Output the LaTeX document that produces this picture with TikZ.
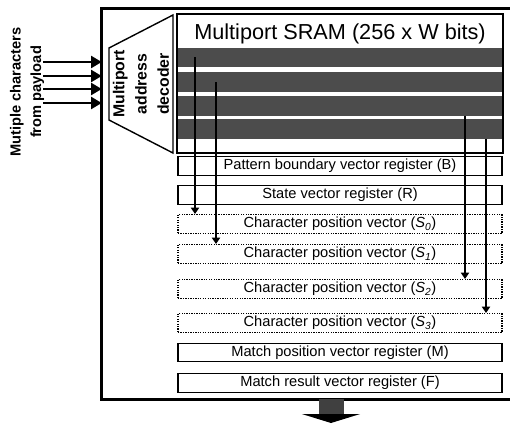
\documentclass[tikz,border=0pt]{standalone}
\usepackage{fontspec}
\setmainfont{Liberation Sans}
\usetikzlibrary{arrows.meta,positioning,calc}

\begin{document}
\begin{tikzpicture}[x=0.03cm,y=-0.03cm,>=Triangle]
\tikzset{reg/.style={draw,line width=1.1pt,minimum width=9.72cm,minimum height=0.56cm,inner sep=0pt,font=\fontsize{12.5}{14}\selectfont}, sreg/.style={reg,densely dotted}, cell/.style={fill=black!70,minimum width=9.74cm,minimum height=0.58cm,inner sep=0pt}, inarr/.style={line width=2.4pt,-{Triangle[width=10pt,length=9pt]}}, rd/.style={line width=1.8pt,-{Triangle[width=7pt,length=5.5pt]}}, outarr/.style={draw=black!75,line width=0.75cm,-{Triangle[width=1.74cm,length=0.27cm,color=black]}}, lbl/.style={rotate=90,align=center,font=\fontsize{12.5}{17.5}\selectfont\bfseries}}
\useasboundingbox (0,0) rectangle (510,424);
% chip outline (its right side lies past the picture)
\node[minimum width=12.54cm,minimum height=11.7cm] (chip) at (311,204) {};
\draw[line width=2.2pt] (chip.north east) -- (chip.north west) -- (chip.south west) -- (chip.south east);
\node[draw,line width=1.2pt,minimum width=9.78cm,minimum height=4.17cm,inner sep=0pt] (sram) at (340,83.5) {};
\node[font=\fontsize{18.5}{20}\selectfont] (title) at (340,34) {Multiport SRAM (256 x W bits)};
\node[cell] (row1) at (340,57.5) {};
\node[cell] (row2) at (340,82) {};
\node[cell] (row3) at (340,106) {};
\node[cell] (row4) at (340,129) {};
% decoder
\draw[line width=1.2pt] (109,48) -- (173,15) -- (173,153) -- (109,120) -- cycle;
\node[lbl,font=\fontsize{13.5}{19}\selectfont\bfseries] (dec) at (141,84) {Multiport\\address\\decoder};
\node[lbl] (src) at (27,92) {Mutiple characters\\from payload};
\coordinate (i1) at (43,62); \coordinate (i2) at (43,76); \coordinate (i3) at (43,89); \coordinate (i4) at (43,103);
\draw[inarr] (i1) -- (i1 -| chip.west); \draw[inarr] (i2) -- (i2 -| chip.west); \draw[inarr] (i3) -- (i3 -| chip.west); \draw[inarr] (i4) -- (i4 -| chip.west);
% registers
\node[reg] (B) at (340,166) {Pattern boundary vector register (B)};
\node[reg] (R) at (340,195) {State vector register (R)};
\node[sreg] (S0) at (340,224) {Character position vector (\textit{S}\textsubscript{\textit{0}})};
\node[sreg] (S1) at (340,254) {Character position vector (\textit{S}\textsubscript{\textit{1}})};
\node[sreg] (S2) at (340,289) {Character position vector (\textit{S}\textsubscript{\textit{2}})};
\node[sreg] (S3) at (340,323) {Character position vector (\textit{S}\textsubscript{\textit{3}})};
\node[reg] (M) at (340,352.5) {Match position vector register (M)};
\node[reg] (F) at (340,383) {Match result vector register (F)};
\coordinate (c0) at (195,0); \coordinate (c1) at (216,0); \coordinate (c2) at (465,0); \coordinate (c3) at (486,0);
\draw[rd] (row1 -| c0) -- (S0.north -| c0);
\draw[rd] (row2 -| c1) -- (S1.north -| c1);
\draw[rd] (row3.south -| c2) -- (S2.north -| c2);
\draw[rd] (row4.south -| c3) -- (S3.north -| c3);
\coordinate (out) at (331,423);
\draw[outarr] (chip.south -| out) -- (out);
\end{tikzpicture}
\end{document}
